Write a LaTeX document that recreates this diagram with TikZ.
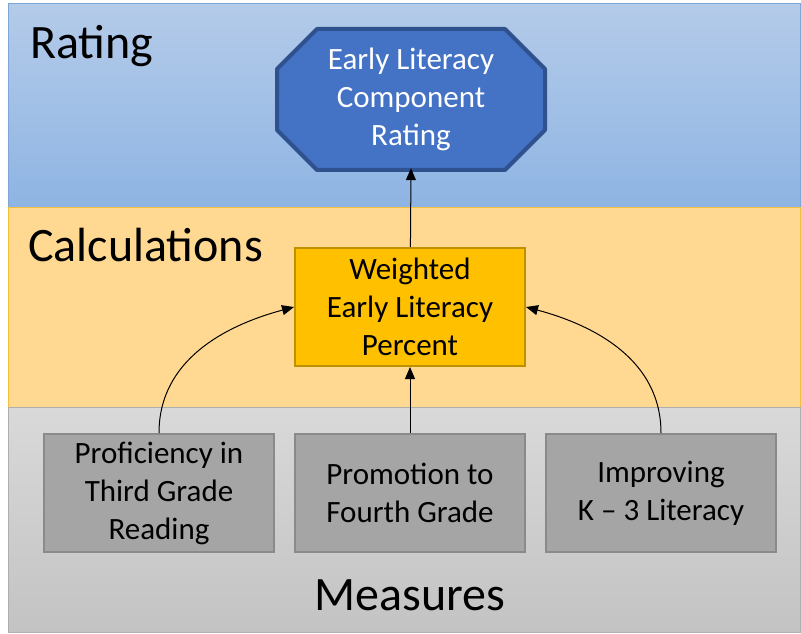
\documentclass[tikz,border=0pt]{standalone}
\usepackage{fontspec}
\setmainfont{Carlito}
\usetikzlibrary{arrows.meta}

\definecolor{ratingtop}{HTML}{B4CBE9}
\definecolor{ratingbot}{HTML}{8EB4E3}
\definecolor{ratingline}{HTML}{7EA6D6}
\definecolor{calcfill}{HTML}{FFD992}
\definecolor{calcline}{HTML}{F0C040}
\definecolor{meastop}{HTML}{D9D9D9}
\definecolor{measbot}{HTML}{C3C3C3}
\definecolor{measline}{HTML}{AEAEAE}
\definecolor{octfill}{HTML}{4472C4}
\definecolor{octline}{HTML}{2F528F}
\definecolor{pctfill}{HTML}{FFC000}
\definecolor{pctline}{HTML}{BF9000}
\definecolor{boxfill}{HTML}{A5A5A5}
\definecolor{boxline}{HTML}{8A8A8A}

\begin{document}
\begin{tikzpicture}[x=1pt, y=1pt, >={Triangle[length=12pt, width=10pt]}]
        \tikzstyle{every node} = [align=center, inner sep=2pt, font=\fontsize{31}{38}\selectfont]
        \tikzstyle{band} = [line width=1pt]
        \tikzstyle{title} = [anchor=base west, inner sep=0pt, font=\fontsize{48}{58}\selectfont]
        \tikzstyle{measure} = [draw=boxline, fill=boxfill, line width=2pt, minimum width=230pt, minimum height=118pt, node distance=251pt]
        \tikzstyle{link} = [->, line width=1pt]

        \useasboundingbox (0,0) rectangle (801,633);

        % the three bands
        \draw[band, draw=ratingline, top color=ratingtop, bottom color=ratingbot] (8,425) rectangle (800,629);
        \draw[band, draw=calcline, fill=calcfill] (8,226) rectangle (800,425);
        \draw[band, draw=measline, top color=meastop, bottom color=measbot] (8,1) rectangle (800,226);

        \node[title](rating) at (30,574){Rating};
        \node[title](calc) at (28,371){Calculations};
        \node[title, anchor=base](meas) at (410,23){Measures};

        % octagon behind the rating text
        \draw[draw=octline, fill=octfill, line width=4pt, line join=round] (317,604) -- (505,604) -- (545,564) -- (545,503) -- (505,463) -- (317,463) -- (277,503) -- (277,564) -- cycle;
        \node[text=white, minimum width=268pt, minimum height=141pt](comp) at (411,533.5){Early Literacy\\Component\\Rating};
        \node[draw=pctline, fill=pctfill, line width=2pt, minimum width=230pt, minimum height=118pt](pct) at (410,326){Weighted\\Early Literacy\\Percent};

        \node[measure](promo) at (410,140){Promotion to\\Fourth Grade};
        \node[measure, left of=promo](prof){Proficiency in\\Third Grade\\Reading};
        \node[measure, right of=promo](impr){Improving\\K -- 3 Literacy};

        \path[link] (promo) edge (pct);
        \path[link] (pct) edge ([yshift=2pt]comp.south);
        \path[link] (prof.north) edge[out=90, in=195] (pct.west);
        \path[link] (impr.north) edge[out=90, in=-15] (pct.east);
    \end{tikzpicture}
\end{document}
